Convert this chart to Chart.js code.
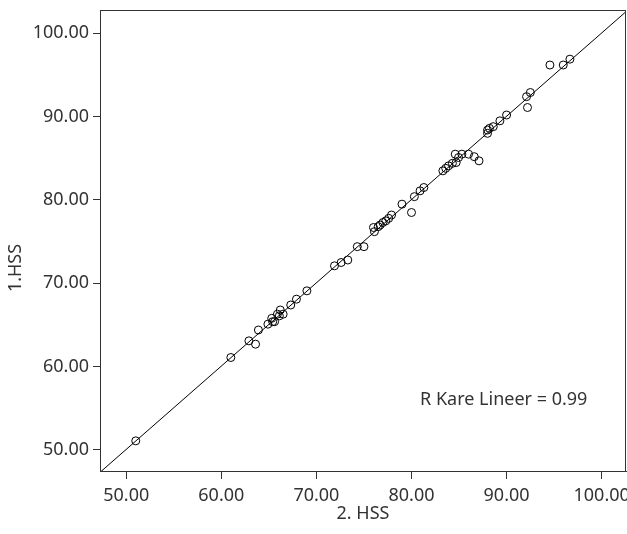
<!DOCTYPE html>
<html>
<head>
<meta charset="utf-8">
<script src="https://cdn.jsdelivr.net/npm/chart.js@4.4.1/dist/chart.umd.min.js"></script>
<style>
  body { margin: 0; background: #fff; }
  canvas { display: block; }
</style>
</head>
<body>
<canvas id="scatterChart" width="627" height="534"></canvas>
<script>
// 2. HSS (x) and 1.HSS (y) values
var hss2 = [51.0, 61.0, 62.9, 63.6, 63.9, 64.9, 65.3, 65.4, 65.6, 65.9, 66.1, 66.2, 66.5, 67.3, 67.9, 69.0,
            71.9, 72.6, 73.3, 74.3, 75.0, 76.0, 76.1, 76.5, 76.7, 77.0, 77.3, 77.6, 77.9, 79.0, 80.0, 80.3,
            80.9, 81.3, 83.3, 83.6, 83.9, 84.3, 84.7, 84.95, 84.6, 85.3, 86.0, 86.6, 87.1, 88.0, 88.0, 88.2,
            88.6, 89.3, 90.0, 92.1, 92.5, 92.2, 94.56, 95.96, 96.66];
var hss1 = [51.1, 61.1, 63.1, 62.7, 64.4, 65.1, 65.8, 65.4, 65.4, 66.3, 66.1, 66.8, 66.3, 67.4, 68.1, 69.1,
            72.1, 72.5, 72.8, 74.4, 74.4, 76.7, 76.2, 76.8, 77.0, 77.3, 77.5, 77.8, 78.2, 79.5, 78.5, 80.4,
            81.1, 81.5, 83.5, 83.8, 84.1, 84.4, 84.5, 85.1, 85.5, 85.5, 85.5, 85.2, 84.7, 88.0, 88.4, 88.6,
            88.8, 89.5, 90.2, 92.4, 92.9, 91.1, 96.2, 96.2, 96.9];
var xTicks = [50, 60, 70, 80, 90, 100];
var yTicks = [50, 60, 70, 80, 90, 100];
var xRange = [47.24, 102.56];
var yRange = [47.48, 102.8];
var rSquareText = 'R Kare Lineer = 0.99';
var rSquareAt = { x: 89.7, y: 56.0 };

var points = hss2.map(function(x, i) { return { x: x, y: hss1[i] }; });

// least squares fit line over the full x range
var n = hss2.length, sx = 0, sy = 0, sxx = 0, sxy = 0;
for (var i = 0; i < n; i++) {
    sx += hss2[i]; sy += hss1[i];
    sxx += hss2[i] * hss2[i]; sxy += hss2[i] * hss1[i];
}
var slope = (n * sxy - sx * sy) / (n * sxx - sx * sx);
var intercept = (sy - slope * sx) / n;
var fitLine = xRange.map(function(x) { return { x: x, y: intercept + slope * x }; });

var font = { family: '"Noto Sans", sans-serif', size: 18 };
var textColor = '#333';

var extras = {
    id: 'extras',
    afterDraw: function(chart) {
        var ctx = chart.ctx, a = chart.chartArea;
        ctx.save();
        ctx.strokeStyle = '#333';
        ctx.lineWidth = 1;
        ctx.strokeRect(a.left + 0.5, a.top + 0.5, a.right - a.left - 1, a.bottom - a.top);
        ctx.fillStyle = textColor;
        ctx.font = '18px "Noto Sans", sans-serif';
        ctx.textAlign = 'center';
        ctx.textBaseline = 'middle';
        ctx.fillText(rSquareText, chart.scales.x.getPixelForValue(rSquareAt.x), chart.scales.y.getPixelForValue(rSquareAt.y));
        ctx.translate(16, 268);
        ctx.rotate(-Math.PI / 2);
        ctx.fillText('1.HSS', 0, 0);
        ctx.restore();
    }
};

var ctx = document.getElementById('scatterChart').getContext('2d');
new Chart(ctx, {
    type: 'scatter',
    data: {
        datasets: [
            {
                label: 'Fit',
                type: 'line',
                data: fitLine,
                borderColor: '#000',
                borderWidth: 1,
                pointRadius: 0,
                fill: false
            },
            {
                label: 'HSS',
                data: points,
                pointRadius: 4,
                pointBorderWidth: 1,
                borderColor: '#000',
                backgroundColor: 'rgba(0,0,0,0)'
            }
        ]
    },
    options: {
        responsive: false,
        animation: false,
        layout: { autoPadding: false, padding: { top: 10, right: 1, left: 0, bottom: 0 } },
        plugins: { legend: { display: false }, tooltip: { enabled: false } },
        scales: {
            x: {
                type: 'linear',
                min: xRange[0],
                max: xRange[1],
                afterBuildTicks: function(scale) { scale.ticks = xTicks.map(function(v) { return { value: v }; }); },
                afterFit: function(scale) {
                    scale.height = 63;
                    scale.paddingLeft = 0;
                    scale.paddingRight = 0;
                },
                ticks: {
                    color: textColor, font: font, padding: 6, maxRotation: 0,
                    callback: function(v) { return Number(v).toFixed(2); }
                },
                grid: { drawOnChartArea: false, tickLength: 8, color: '#333' },
                border: { color: '#333' },
                title: { display: true, text: '2. HSS', color: textColor, font: font, padding: { top: 0, bottom: 9 } }
            },
            y: {
                type: 'linear',
                min: yRange[0],
                max: yRange[1],
                afterBuildTicks: function(scale) { scale.ticks = yTicks.map(function(v) { return { value: v }; }); },
                afterFit: function(scale) {
                    scale.width = 100;
                    scale.paddingTop = 0;
                    scale.paddingBottom = 0;
                },
                ticks: {
                    color: textColor, font: font, padding: 4,
                    callback: function(v) { return Number(v).toFixed(2); }
                },
                grid: { drawOnChartArea: false, tickLength: 7, color: '#333' },
                border: { color: '#333' }
            }
        }
    },
    plugins: [extras]
});
</script>
</body>
</html>
